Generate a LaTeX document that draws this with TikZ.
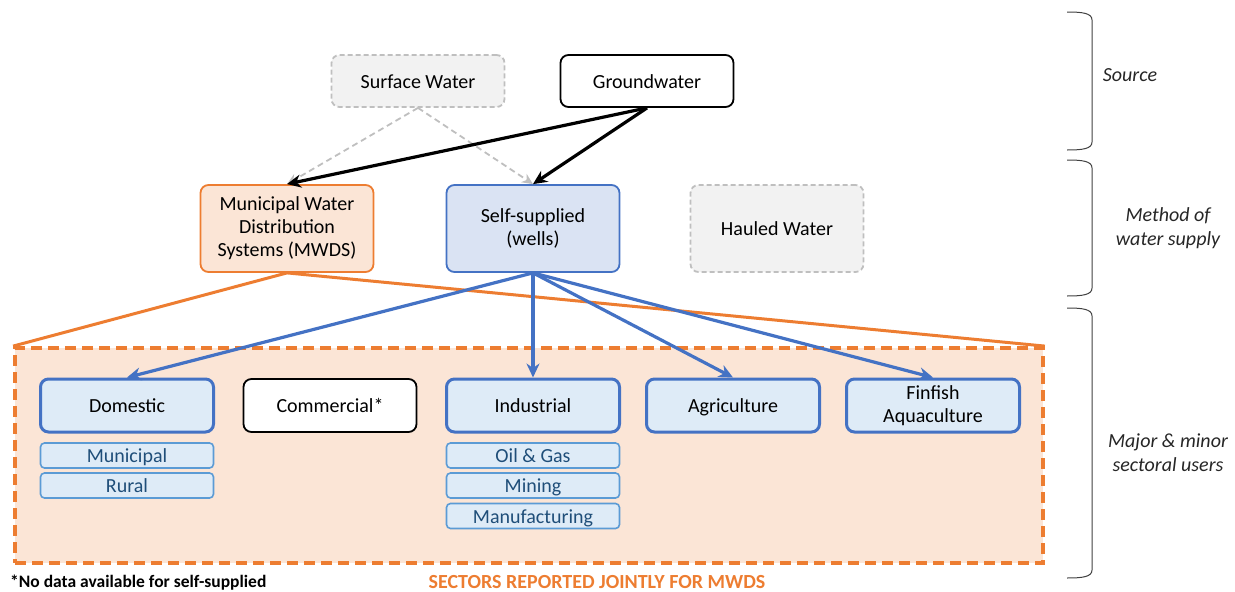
\documentclass[tikz,border=0pt]{standalone}
\usepackage{fontspec}
\setmainfont{Carlito}
\usetikzlibrary{arrows.meta}
\definecolor{ored}{HTML}{ED7D31}
\definecolor{ofill}{HTML}{FBE5D6}
\definecolor{bline}{HTML}{4472C4}
\definecolor{bfill}{HTML}{DAE3F3}
\definecolor{sfill}{HTML}{DEEBF7}
\definecolor{subline}{HTML}{5B9BD5}
\definecolor{subtext}{HTML}{1F4E79}
\definecolor{gline}{HTML}{BFBFBF}
\definecolor{gfill}{HTML}{F2F2F2}
\definecolor{brk}{HTML}{404040}
\tikzset{
  base/.style={rectangle, rounded corners=8pt, align=center, font=\fontsize{20}{23}\selectfont, inner sep=2pt},
  oneline/.style={text height=16pt, text depth=2pt},
  graybox/.style={base, draw=gline, fill=gfill, dashed, dash pattern=on 5pt off 3pt, line width=1.8pt, minimum width=173pt},
  blackbox/.style={base, draw=black, fill=white, line width=1.8pt, minimum width=173pt},
  mwdsbox/.style={base, draw=ored, fill=ofill, line width=1.8pt, minimum width=173pt, minimum height=87pt},
  selfbox/.style={base, draw=bline, fill=bfill, line width=1.8pt, minimum width=173pt, minimum height=87pt},
  sectorbox/.style={base, draw=bline, fill=sfill, line width=3pt, minimum width=173pt, minimum height=53pt},
  subbox/.style={base, oneline, rounded corners=4pt, draw=subline, fill=sfill, line width=1.6pt, minimum width=173pt, minimum height=25pt, text=subtext, inner sep=0pt},
  blackarrow/.style={line width=3.2pt, -{Stealth[length=14pt,width=13pt]}},
  grayarrow/.style={line width=1.8pt, draw=gline, dashed, dash pattern=on 6pt off 4pt, -{Stealth[length=11pt,width=10pt]}},
  bluearrow/.style={line width=3.2pt, draw=bline, -{Stealth[length=14pt,width=13pt]}},
  orangeline/.style={line width=3pt, draw=ored},
  bracket/.style={draw=brk, line width=1pt},
  sidelabel/.style={align=center, font=\fontsize{20}{24}\selectfont\itshape, text=black!85}
}
\begin{document}
\begin{tikzpicture}[x=1pt,y=-1pt]
\useasboundingbox (0,0) rectangle (1235,592);

% sectors background
\node[draw=ored, fill=ofill, line width=3.8pt, dashed, dash pattern=on 11pt off 6pt, minimum width=1028pt, minimum height=215pt, inner sep=0pt] (sectors) at (529,455.5) {};

% sources
\node[graybox, oneline, minimum height=52pt] (surface) at (418,81) {Surface Water};
\node[blackbox, oneline, minimum height=52pt] (ground) at (647,81) {Groundwater};

% methods
\node[mwdsbox] (mwds) at (287,228.5) {Municipal Water\\Distribution\\Systems (MWDS)};
\node[selfbox] (self) at (533,228.5) {Self-supplied\\(wells)};
\node[graybox, oneline, minimum height=87pt] (hauled) at (777,228.5) {Hauled Water};

% sectors
\node[sectorbox, oneline] (domestic) at (127,405.5) {Domestic};
\node[blackbox, oneline, minimum height=53pt] (commercial) at (330,405.5) {Commercial*};
\node[sectorbox, oneline] (industrial) at (533,405.5) {Industrial};
\node[sectorbox, oneline] (agriculture) at (733,405.5) {Agriculture};
\node[sectorbox] (finfish) at (933,405.5) {Finfish\\Aquaculture};

% sub-sectors
\node[subbox] (municipal) at (127,455.5) {Municipal};
\node[subbox] (rural) at (127,485.5) {Rural};
\node[subbox] (oilgas) at (533,455.5) {Oil \& Gas};
\node[subbox] (mining) at (533,485.5) {Mining};
\node[subbox] (manuf) at (533,516) {Manufacturing};

% connectors
\draw[grayarrow] (surface.south) -- (mwds.north);
\draw[grayarrow] (surface.south) -- (self.north);
\draw[blackarrow] (ground.south) -- (mwds.north);
\draw[blackarrow] (ground.south) -- (self.north);

\draw[orangeline] (mwds.south) -- (sectors.north west);
\draw[orangeline] (mwds.south) -- (sectors.north east);

\draw[bluearrow] (self.south) -- (domestic.north);
\draw[bluearrow] (self.south) -- (industrial.north);
\draw[bluearrow] (self.south) -- (agriculture.north);
\draw[bluearrow] (self.south) -- (finfish.north);

% brackets
\draw[bracket] (1067,12) .. controls (1082,12) and (1092,13) .. (1092,20) -- (1092,142) .. controls (1092,149) and (1082,150) .. (1067,150);
\draw[bracket] (1067,160) .. controls (1082,160) and (1092,161) .. (1092,168) -- (1092,288) .. controls (1092,295) and (1082,296) .. (1067,296);
\draw[bracket] (1067,308) .. controls (1082,308) and (1092,309) .. (1092,316) -- (1092,570) .. controls (1092,577) and (1082,578) .. (1067,578);

\node[sidelabel] (lsource) at (1130,75) {Source};
\node[sidelabel] (lmethod) at (1168,228) {Method of\\water supply};
\node[sidelabel] (lmajor) at (1168,453) {Major \& minor\\sectoral users};

% footnotes
\node[anchor=west, font=\fontsize{17.5}{20}\selectfont\bfseries, inner sep=0pt] (note) at (10,583) {*No data available for self-supplied};
\node[font=\fontsize{20}{23}\selectfont\bfseries, text=ored, inner sep=0pt] (joint) at (597,582) {SECTORS REPORTED JOINTLY FOR MWDS};
\end{tikzpicture}
\end{document}
